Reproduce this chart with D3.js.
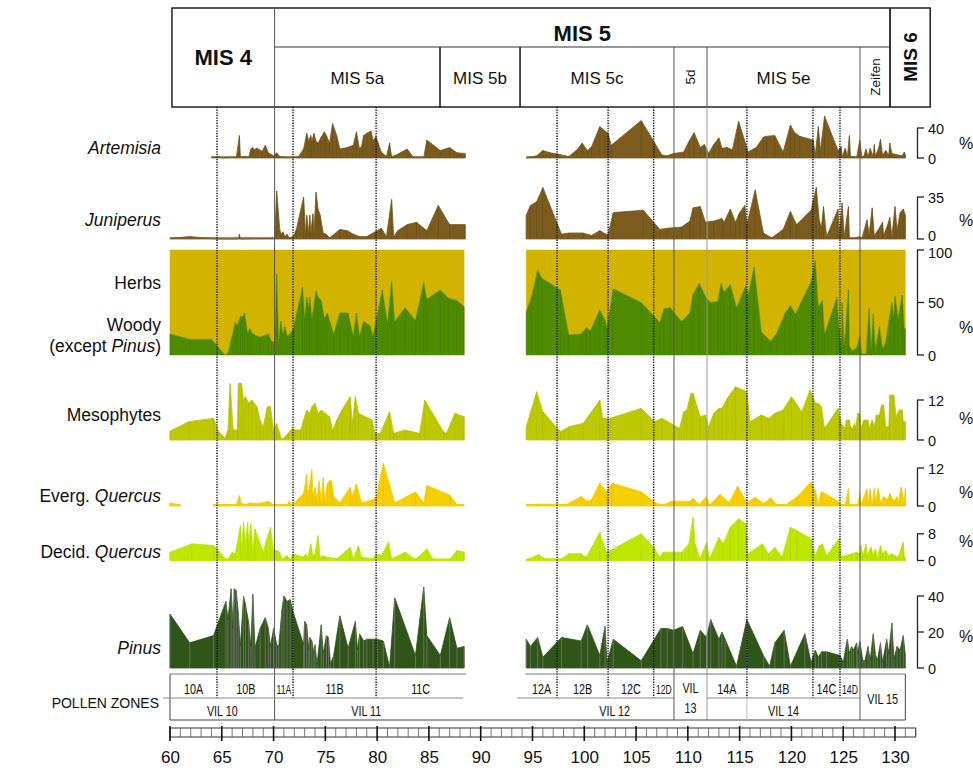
<!DOCTYPE html>
<html><head><meta charset="utf-8">
<script src="https://cdn.jsdelivr.net/npm/d3@7"></script>
<style>
body{margin:0;background:#fff}
svg{display:block}
text{font-family:'Liberation Sans',Arial,sans-serif;fill:#111}
</style>
</head><body>
<svg id="c" width="973" height="771"></svg>
<script>
// ---------------- DATA (age in ka, value in %) ----------------
const axisTicks = [60,65,70,75,80,85,90,95,100,105,110,115,120,125,130];

const artemisia = [[60.0,0],[64.0,0.5],[64.3,1],[65.5,0.3],[66.0,1],[66.4,0.5],[66.7,30],[66.8,1],[67.2,2],[67.6,1],[67.8,12],[68.0,14],[68.1,11],[68.4,13],[68.9,9],[69.2,17],[69.5,7],[70.0,3],[70.3,7],[70.6,2],[71.3,0.5],[71.9,0.5],[72.4,2],[72.9,12],[73.2,33],[73.4,23],[73.6,30],[73.7,22],[73.9,33],[74.1,22],[74.3,20],[74.6,28],[74.9,35],[75.1,30],[75.4,20],[75.7,46],[76.1,30],[76.4,12],[77.1,14],[77.7,17],[78.0,35],[78.3,12],[78.5,16],[78.7,30],[79.0,33],[79.4,36],[79.6,24],[79.9,28],[80.1,20],[80.4,8],[80.9,2],[81.2,20],[81.4,2],[81.7,3],[82.9,12],[83.5,1],[84.5,1],[84.8,24],[86.1,10],[87.0,14],[87.7,7],[88.5,6],
[94.4,0],[95.4,3],[96.0,10],[96.7,7],[97.5,5],[98.5,2],[99.3,11],[99.8,20],[100.3,10],[100.7,15],[101.5,42],[102.0,36],[102.3,33],[102.6,17],[105.5,50],[106.8,20],[107.5,4],[108.0,3],[108.6,6],[109.6,8],[110.1,22],[110.6,34],[111.2,14],[111.6,18],[112.0,6],[112.5,18],[113.0,27],[113.3,13],[113.8,14],[114.3,11],[114.9,49],[115.6,18],[115.8,8],[116.6,14],[117.3,28],[117.6,29],[118.4,30],[119.2,8],[119.9,44],[120.3,34],[120.8,29],[122.1,24],[122.3,4],[122.6,42],[122.8,10],[123.2,56],[124.5,10],[124.8,15],[124.9,2],[125.2,13],[125.4,2],[125.6,30],[125.7,2],[126.0,2],[126.3,1],[126.6,24],[126.8,1],[127.0,3],[127.2,12],[127.4,2],[127.6,13],[127.9,2],[128.0,18],[128.1,3],[128.4,12],[128.6,25],[128.8,4],[129.1,10],[129.4,4],[129.5,20],[129.7,6],[130.0,5],[130.3,4],[130.7,3],[130.9,8],[131.0,4]];

const juniperus = [[60.0,0.5],[61.9,2],[63.9,0.5],[64.5,0],[66.6,0],[66.7,4],[66.8,0],[69.7,0.5],[70.1,0.5],[70.3,40],[70.6,8],[70.7,4],[70.9,6],[71.1,2],[71.3,4],[71.5,1],[71.9,2],[72.2,8],[72.9,35],[73.1,3],[73.2,20],[73.4,5],[73.5,20],[73.6,5],[73.8,21],[73.9,5],[74.1,39],[74.3,25],[74.5,20],[74.8,5],[75.1,4],[75.4,1],[75.7,3],[76.4,8],[77.1,7],[77.7,4],[78.3,2],[79.0,2],[79.8,6],[80.4,9],[80.9,2],[81.4,33],[81.6,2],[82.0,7],[82.9,12],[83.8,14],[84.8,7],[85.9,28],[87.0,12],[88.5,12],
[94.4,20],[94.8,28],[95.4,31],[96.0,43],[97.8,4],[98.5,5],[99.9,5],[100.7,3],[101.5,7],[102.1,4],[102.3,4],[102.8,22],[105.7,24],[107.3,8],[108.0,9],[109.4,10],[110.2,15],[110.5,26],[111.2,27],[111.7,14],[112.5,15],[113.3,17],[113.5,14],[114.1,25],[114.6,14],[115.0,22],[115.5,28],[115.7,12],[116.5,41],[117.3,5],[118.1,1],[119.2,8],[119.9,23],[120.5,12],[121.9,24],[122.4,43],[122.7,15],[122.9,10],[123.1,27],[123.4,2],[124.5,25],[124.6,3],[124.9,30],[125.1,2],[125.5,27],[125.6,1],[126.0,0.5],[126.6,2],[126.8,0.5],[127.3,16],[127.5,4],[127.8,26],[128.0,3],[128.4,8],[128.8,14],[128.9,3],[129.3,12],[129.5,18],[129.7,2],[130.0,27],[130.2,8],[130.5,22],[130.8,25],[131.0,20]];

const woody = [[60.0,20],[61.9,15],[64.0,15],[65.3,0],[65.6,2],[66.0,18],[66.3,31],[66.5,28],[66.8,37],[67.0,36],[67.2,40],[67.5,21],[67.7,25],[68.0,20],[68.7,17],[69.5,20],[69.8,13],[70.1,12],[70.3,77],[70.5,12],[70.7,32],[70.9,20],[71.1,27],[71.3,18],[71.6,20],[71.9,25],[72.8,65],[73.0,35],[73.2,55],[73.4,45],[73.5,55],[73.7,35],[74.1,61],[74.3,55],[74.6,52],[74.9,35],[75.2,40],[75.8,20],[76.4,40],[77.2,40],[77.7,18],[78.0,40],[78.3,18],[78.7,32],[79.3,28],[79.6,18],[80.5,62],[81.0,30],[81.4,70],[81.7,32],[82.7,45],[83.7,33],[84.5,69],[84.8,53],[86.1,62],[86.9,54],[87.7,52],[88.4,46],
[94.4,41],[94.9,55],[95.5,81],[95.9,73],[97.7,62],[98.5,19],[99.7,20],[100.2,26],[100.6,23],[101.5,43],[102.0,33],[102.2,26],[102.8,63],[105.5,50],[107.3,31],[107.7,44],[108.3,45],[109.4,32],[110.2,40],[110.5,58],[111.1,68],[111.8,54],[112.2,50],[112.9,51],[113.2,68],[113.5,60],[114.1,67],[114.7,45],[115.6,66],[115.8,56],[116.4,84],[117.1,22],[118.0,13],[118.6,21],[119.4,40],[119.9,47],[120.4,39],[121.9,70],[122.3,90],[122.6,46],[123.0,52],[123.2,20],[124.4,55],[124.6,25],[124.8,8],[124.9,50],[125.1,8],[125.5,62],[125.6,8],[125.9,4],[126.3,7],[126.6,18],[126.8,1],[127.2,1],[127.5,44],[127.7,6],[127.9,39],[128.1,6],[128.5,27],[128.8,6],[129.1,12],[129.5,38],[129.7,50],[129.9,36],[130.0,56],[130.3,35],[130.7,57],[130.9,25],[131.0,25]];

const herbs = [[60.0,80],[61.9,85],[64.0,85],[65.3,100],[65.6,98],[66.0,82],[66.3,69],[66.5,72],[66.8,63],[67.0,64],[67.2,60],[67.5,79],[67.7,75],[68.0,80],[68.7,83],[69.5,80],[69.8,87],[70.1,88],[70.3,23],[70.5,88],[70.7,68],[70.9,80],[71.1,73],[71.3,82],[71.6,80],[71.9,75],[72.8,35],[73.0,65],[73.2,45],[73.4,55],[73.5,45],[73.7,65],[74.1,39],[74.3,45],[74.6,48],[74.9,65],[75.2,60],[75.8,80],[76.4,60],[77.2,60],[77.7,82],[78.0,60],[78.3,82],[78.7,68],[79.3,72],[79.6,82],[80.5,38],[81.0,70],[81.4,30],[81.7,68],[82.7,55],[83.7,67],[84.5,31],[84.8,47],[86.1,38],[86.9,46],[87.7,48],[88.4,54],
[94.4,59],[94.9,45],[95.5,19],[95.9,27],[97.7,38],[98.5,81],[99.7,80],[100.2,74],[100.6,77],[101.5,57],[102.0,67],[102.2,74],[102.8,37],[105.5,50],[107.3,69],[107.7,56],[108.3,55],[109.4,68],[110.2,60],[110.5,42],[111.1,32],[111.8,46],[112.2,50],[112.9,49],[113.2,32],[113.5,40],[114.1,33],[114.7,55],[115.6,34],[115.8,44],[116.4,16],[117.1,78],[118.0,87],[118.6,79],[119.4,60],[119.9,53],[120.4,61],[121.9,30],[122.3,10],[122.6,54],[123.0,48],[123.2,80],[124.4,45],[124.6,75],[124.8,92],[124.9,50],[125.1,92],[125.5,38],[125.6,92],[125.9,96],[126.3,93],[126.6,82],[126.8,99],[127.2,99],[127.5,56],[127.7,94],[127.9,61],[128.1,94],[128.5,73],[128.8,94],[129.1,88],[129.5,62],[129.7,50],[129.9,64],[130.0,44],[130.3,65],[130.7,43],[130.9,75],[131.0,75]];

const mesophytes = [[60.0,2.7],[61.8,5.5],[64.2,6.5],[64.7,2.5],[65.3,0.5],[65.6,3],[65.8,17],[66.1,3],[66.5,3],[66.6,17],[66.9,17],[67.1,12],[67.3,13],[67.6,11],[67.9,12],[68.4,10],[68.7,6],[69.0,4],[69.4,10],[69.7,10],[70.0,3],[70.3,5],[70.6,2],[70.8,0],[71.1,1],[71.4,2],[71.8,3.5],[72.1,3],[72.6,3],[72.9,6],[73.2,9],[73.5,8],[73.7,10],[74.0,11],[74.3,8],[74.6,9],[75.0,8],[75.4,7],[75.7,3],[76.1,6],[76.6,9],[77.4,13],[77.6,5],[77.9,13],[78.2,8],[79.5,6],[79.8,2],[80.3,2],[81.2,8.5],[81.6,2],[82.7,3],[84.1,2],[84.6,12],[86.4,2.5],[86.7,2],[87.5,8],[88.4,7],
[94.4,4],[95.4,14.5],[96.0,8.5],[97.7,2.5],[98.5,4],[99.9,5],[101.5,12],[101.8,6.5],[102.5,6.5],[105.5,9.5],[106.8,5.5],[107.5,6.5],[109.2,3.5],[109.6,8.5],[109.9,9],[110.3,14],[110.5,14],[111.2,7],[111.7,7.5],[112.0,4],[112.5,8],[113.0,9.5],[113.3,9.5],[113.8,12.5],[114.6,16],[115.7,14.5],[116.0,5.5],[117.1,7.5],[117.8,6.5],[118.4,8],[119.2,9],[120.0,13],[121.0,8.5],[121.8,15],[122.3,11],[122.6,11],[122.9,10],[123.2,3.5],[124.5,9.5],[124.8,5],[125.2,3.5],[125.3,6],[125.6,6],[125.7,4],[125.9,3.5],[126.1,5],[126.2,3.5],[126.4,8],[126.6,8],[126.7,3.5],[127.0,6],[127.4,6],[127.5,3.5],[127.8,6],[128.0,4],[128.2,7.5],[128.5,7.5],[128.7,10.5],[128.9,10.5],[129.1,4],[129.4,4],[129.5,13.5],[129.9,13.5],[130.1,7],[130.4,9],[130.7,9],[130.8,5.5],[131.0,5.5]];

const evergQuercus = [[60.0,1],[61.0,0.3],[64.2,0.6],[64.7,0.2],[66.4,0.3],[66.7,3.3],[66.9,0.8],[67.4,0.5],[67.7,1],[68.2,0.8],[68.7,0.9],[69.5,1.5],[70.0,0.3],[71.3,0.3],[71.5,1.5],[71.8,0.2],[72.9,4],[73.2,10],[73.3,3],[73.5,7],[73.7,11.5],[73.8,3],[74.0,6],[74.2,2],[74.4,8],[74.6,1.5],[74.8,9],[74.9,2],[75.2,7],[75.4,8],[75.6,8],[75.8,3],[76.4,1],[77.4,6],[77.6,3],[78.0,7],[78.5,1],[79.6,2],[79.9,3],[80.6,13.5],[81.7,1],[83.7,4.5],[84.5,1],[84.8,6.5],[87.0,3.5],[87.7,0.5],[88.4,0.3],
[94.4,0.3],[95.4,0.6],[98.3,0.5],[99.7,3],[100.3,1.5],[100.7,2],[101.5,7.3],[102.1,4.5],[102.7,7.2],[105.5,4.5],[106.9,1],[107.6,0.2],[108.4,1.5],[110.2,1.5],[110.5,2.5],[111.1,0.5],[111.8,3],[112.1,0.3],[113.1,3.7],[114.0,1],[114.8,6.3],[115.7,1],[116.5,2.8],[117.3,0.8],[118.0,2.6],[118.6,0.3],[119.4,0.3],[120.5,2.8],[121.9,7.6],[122.3,5],[122.6,0.5],[122.9,4.6],[124.5,1.5],[124.8,0.3],[125.2,0.3],[125.5,5.5],[125.6,0.3],[126.4,0.3],[126.6,4],[126.7,0.3],[127.3,5.5],[127.4,0.5],[127.6,5.5],[127.8,0.5],[128.0,5.5],[128.1,1.5],[128.4,5.5],[128.6,1],[128.9,3],[129.3,2],[129.5,4],[129.9,1.5],[130.2,3],[130.3,1],[130.6,6],[130.9,1],[131.0,5.5]];

const decidQuercus = [[60.0,2.5],[62.1,5],[64.2,4.5],[64.7,3],[65.5,0],[66.0,2.5],[66.3,2],[66.8,10.5],[66.9,3],[67.1,11.5],[67.3,5],[67.5,11.5],[67.6,5],[67.8,11],[68.0,3],[68.2,9.5],[69.0,2.5],[69.3,6],[69.7,10],[70.0,3],[70.3,3],[70.6,2.5],[70.8,0.3],[71.3,1.5],[71.6,0.3],[71.9,2],[72.9,1],[73.1,2],[73.3,1],[73.6,5],[73.8,1.5],[74.0,2],[74.3,7.5],[74.5,1],[74.8,1.5],[75.1,1],[76.1,0.5],[77.4,4],[77.7,0.5],[78.2,4.5],[78.5,1],[79.6,0.5],[79.9,2],[80.4,1.5],[81.1,5.5],[81.4,0.5],[82.7,2.5],[83.7,0.3],[84.8,3.5],[85.4,0.3],[87.0,0.3],[87.7,3],[88.4,2.5],
[94.4,0.2],[95.6,1.8],[96.2,0.5],[97.7,0.3],[98.5,2],[99.7,2],[100.2,1],[101.5,8.5],[102.1,2.5],[102.5,3],[105.5,8],[106.7,4],[107.3,1],[107.6,2.5],[109.4,2.5],[110.1,5],[110.5,13],[110.7,5],[111.2,0.5],[111.8,5.5],[112.1,0.5],[113.0,7],[113.4,5],[114.1,10],[114.9,12.5],[115.6,11],[115.8,2],[117.2,5],[117.8,2],[118.4,4],[119.1,1],[119.9,10],[120.5,9],[121.9,6.5],[122.3,1.5],[122.7,4.5],[123.0,5],[123.4,1.5],[124.6,6.5],[124.8,1.2],[125.3,1.5],[125.8,2],[126.3,2.5],[126.6,2],[126.7,4.5],[126.9,1.5],[127.2,5],[127.3,1.5],[127.7,4],[127.9,1.5],[128.1,3.5],[128.3,1],[128.6,4.5],[128.8,2],[129.1,3],[129.4,1.5],[129.7,2],[130.0,1.5],[130.3,1],[130.8,5.5],[130.9,1],[131.0,1]];

const pinus = [[60.0,30],[61.9,14],[64.2,18],[65.4,37],[65.6,27],[65.9,44],[66.1,22],[66.2,44],[66.4,43],[66.6,30],[66.8,12],[67.1,40],[67.3,35],[67.6,25],[67.8,12],[68.0,41],[68.2,11],[68.7,22],[69.2,28],[69.5,22],[69.7,12],[70.0,22],[70.3,13],[70.5,12],[70.8,32],[71.0,40],[71.3,37],[71.6,38],[71.9,31],[72.9,13],[73.0,26],[73.2,24],[73.4,10],[73.5,17],[73.7,15],[73.9,8],[74.0,13],[74.2,2],[74.6,24],[74.8,8],[75.1,18],[75.3,17],[75.5,2],[75.8,7],[76.4,29],[77.2,11],[77.9,26],[78.1,10],[78.3,19],[78.7,15],[79.0,16],[79.6,16],[80.0,16],[80.6,15],[81.2,0.5],[81.7,39],[83.7,7],[84.5,45],[84.8,18],[86.1,7],[87.0,28],[87.7,11],[88.4,12],
[94.4,16],[94.8,12],[95.5,17],[96.0,6],[97.8,17],[99.7,15],[100.3,24],[101.5,7],[102.0,23],[102.2,3],[102.8,16],[105.5,4],[107.4,22],[108.0,22],[108.6,21],[109.5,23],[110.5,8],[111.2,21],[111.8,17],[112.2,27],[113.0,16],[113.3,20],[113.6,16],[114.7,1],[115.7,27],[117.3,7],[117.9,1],[118.4,14],[119.3,21],[119.9,1],[121.3,19],[121.9,3],[122.3,10],[122.6,6],[122.9,9],[123.4,9],[124.7,7],[125.0,3],[125.4,16],[125.6,8],[125.8,12],[126.0,10],[126.3,14],[126.4,8],[126.6,15],[126.9,4],[127.1,4],[127.4,12],[127.6,4],[127.9,19],[128.1,8],[128.3,4],[128.6,14],[128.8,3],[129.2,16],[129.4,8],[129.7,25],[129.9,5],[130.2,12],[130.5,10],[130.8,18],[131.0,7]];

// boundaries (ka)
const solidBounds = [70.1, 108.66, 111.85, 126.62];
const dottedBounds = [64.54, 71.88, 79.9, 97.37, 102.3, 106.7, 115.7, 122.08, 124.69];
const misMain = [{name:'MIS 4',from:60.19,to:70.1},{name:'MIS 5',from:70.1,to:129.52},{name:'MIS 6',from:129.52,to:133.4}];
const misSub = [{name:'MIS 5a',from:70.1,to:86.07},{name:'MIS 5b',from:86.07,to:93.8},{name:'MIS 5c',from:93.8,to:108.66},{name:'5d',from:108.66,to:111.85},{name:'MIS 5e',from:111.85,to:126.62},{name:'Zeifen',from:126.62,to:129.52}];
const zonesTop = [{name:'10A',from:60,to:64.54},{name:'10B',from:64.54,to:70.1},{name:'11A',from:70.1,to:71.88},{name:'11B',from:71.88,to:79.9},{name:'11C',from:79.9,to:88.5},{name:'12A',from:94.4,to:97.37},{name:'12B',from:97.37,to:102.3},{name:'12C',from:102.3,to:106.7},{name:'12D',from:106.7,to:108.66},{name:'14A',from:111.85,to:115.7},{name:'14B',from:115.7,to:122.08},{name:'14C',from:122.08,to:124.69},{name:'14D',from:124.69,to:126.62}];
const zonesBottom = [{name:'VIL 10',from:60,to:70.1},{name:'VIL 11',from:70.1,to:87.8},{name:'VIL 12',from:97.2,to:108.66},{name:'VIL 14',from:111.85,to:126.62}];
const zonesFull = [{name:['VIL','13'],from:108.66,to:111.85},{name:['VIL 15'],from:126.62,to:131}];

// ---------------- DRAW ----------------
const svg = d3.select('#c');
const x = d3.scaleLinear().domain([60,132]).range([170, 915.7]);

function splitGaps(data){
  const segs=[]; let cur=[];
  data.forEach((d,i)=>{ if(i>0 && d[0]-data[i-1][0]>3){segs.push(cur);cur=[];} cur.push(d); });
  segs.push(cur); return segs;
}

const panels = [
 {data:artemisia, base:158, top:128, max:40, ticks:[0,40], fill:'#7b5c1e', bar:'#5e4515', pctY:149, baseCol:'#a08a5e'},
 {data:juniperus, base:239, top:197, max:35, ticks:[0,35], fill:'#7b5c1e', bar:'#5e4515', pctY:226, baseCol:'#a08a5e'},
 {data:mesophytes, base:440, top:400, max:12, ticks:[0,12], fill:'#bcc800', bar:'#a5b000', pctY:424, baseCol:'#bcc800'},
 {data:evergQuercus, base:506, top:468, max:12, ticks:[0,12], fill:'#f5cf00', bar:'#e0b800', pctY:498, baseCol:'#f5cf00'},
 {data:decidQuercus, base:560.5, top:533.8, max:8, ticks:[0,8], fill:'#bde600', bar:'#a8cf00', pctY:547, baseCol:'#bde600'},
 {data:pinus, base:668, top:596, max:40, ticks:[0,20,40], fill:'#2f5518', bar:'#767676', barOp:0.9, pctY:642, baseCol:'#2f5518'}
];
const hw = {base:355, top:250, max:100, ticks:[0,50,100], pctY:333};

const gData = svg.append('g');

// herbs / woody stacked
{
  const y = d3.scaleLinear().domain([0,100]).range([hw.base, hw.top]);
  const rows = woody.map((d,i)=>({age:d[0], woody:d[1], herbs:herbs[i][1]}));
  const stack = d3.stack().keys(['woody','herbs'])(rows);
  const cols = {woody:'#4f8a00', herbs:'#d2b300'};
  stack.slice().reverse().forEach(layer=>{
    const pts = layer.map(p=>({age:p.data.age, y0:p[0], y1:p[1]}));
    const segs=[]; let cur=[];
    pts.forEach((p,i)=>{ if(i>0 && p.age-pts[i-1].age>3){segs.push(cur);cur=[];} cur.push(p); });
    segs.push(cur);
    const area = d3.area().x(p=>x(p.age)).y0(p=>y(p.y0)).y1(p=>y(p.y1));
    segs.forEach(s=>gData.append('path').attr('d',area(s)).attr('fill',cols[layer.key]).attr('stroke',cols[layer.key]).attr('stroke-width',0.5));
  });
  gData.selectAll(null).data(woody).enter().append('line')
    .attr('x1',d=>x(d[0])).attr('x2',d=>x(d[0])).attr('y1',y(0)).attr('y2',d=>y(d[1]))
    .attr('stroke','#3f7800').attr('stroke-width',0.8).attr('opacity',0.5);
}

panels.forEach(p=>{
  const y = d3.scaleLinear().domain([0,p.max]).range([p.base,p.top]);
  p.y=y;
  const area = d3.area().x(d=>x(d[0])).y0(y(0)).y1(d=>y(d[1]));
  splitGaps(p.data).forEach(s=>{
    gData.append('rect').attr('x',x(s[0][0])).attr('y',y(0)-2).attr('width',x(s[s.length-1][0])-x(s[0][0])).attr('height',2)
      .attr('fill',p.baseCol);
    gData.append('path').attr('d',area(s)).attr('fill',p.fill).attr('stroke',p.fill).attr('stroke-width',0.8);
  });
  gData.selectAll(null).data(p.data).enter().append('line')
    .attr('x1',d=>x(d[0])).attr('x2',d=>x(d[0])).attr('y1',y(0)).attr('y2',d=>y(d[1]))
    .attr('stroke',p.bar).attr('stroke-width',0.9).attr('opacity',p.barOp||0.45);
});

// right axes
const allAxes = panels.map(p=>({base:p.base,top:p.top,max:p.max,ticks:p.ticks,pctY:p.pctY})).concat([hw]);
allAxes.forEach(a=>{
  const y = d3.scaleLinear().domain([0,a.max]).range([a.base,a.top]);
  const g = svg.append('g');
  g.append('line').attr('x1',917.5).attr('x2',917.5).attr('y1',y(0)).attr('y2',y(a.max)).attr('stroke','#222').attr('stroke-width',1.3);
  a.ticks.forEach(t=>{
    g.append('line').attr('x1',917).attr('x2',924).attr('y1',y(t)).attr('y2',y(t)).attr('stroke','#222').attr('stroke-width',1.3);
    let dy = 5.5;
    if(a.max===35 && t===0) dy = 2;
    if(a.max===100 && t===100) dy = 8;
    g.append('text').attr('x',928).attr('y',y(t)+dy).attr('font-size',14.5).text(t);
  });
  g.append('text').attr('x',959).attr('y',a.pctY).attr('font-size',16).text('%');
});

// left labels
const labels = [
 {y:154, parts:[['Artemisia',true]]},
 {y:226, parts:[['Juniperus',true]]},
 {y:289, parts:[['Herbs',false]]},
 {y:331, parts:[['Woody',false]]},
 {y:352, parts:[['(except ',false],['Pinus',true],[')',false]]},
 {y:421, parts:[['Mesophytes',false]]},
 {y:502, parts:[['Everg. ',false],['Quercus',true]]},
 {y:558, parts:[['Decid. ',false],['Quercus',true]]},
 {y:654, parts:[['Pinus',true]]}
];
labels.forEach(l=>{
  const t = svg.append('text').attr('x',161).attr('y',l.y).attr('text-anchor','end').attr('font-size',17.5);
  l.parts.forEach(pt=>t.append('tspan').attr('font-style',pt[1]?'italic':'normal').text(pt[0]));
});
svg.append('text').attr('x',159).attr('y',708).attr('text-anchor','end').attr('font-size',14).text('POLLEN ZONES');

// header
const H = svg.append('g');
const hTop=8, hMid=47, hBot=107;
H.append('rect').attr('x',x(60.19)).attr('y',hTop).attr('width',x(133.4)-x(60.19)).attr('height',hBot-hTop).attr('fill','none').attr('stroke','#222').attr('stroke-width',1.5);
H.append('line').attr('x1',x(70.1)).attr('x2',x(129.52)).attr('y1',hMid).attr('y2',hMid).attr('stroke','#333').attr('stroke-width',1);
H.append('line').attr('x1',x(129.52)).attr('x2',x(129.52)).attr('y1',hTop).attr('y2',hBot).attr('stroke','#222').attr('stroke-width',1.8);
misSub.forEach((m,i)=>{
  if(i>0){
    const thick = (m.name==='MIS 5b'||m.name==='MIS 5c');
    H.append('line').attr('x1',x(m.from)).attr('x2',x(m.from)).attr('y1',hMid).attr('y2',hBot).attr('stroke',thick?'#222':'#555').attr('stroke-width',thick?1.6:1);
  }
  const cx = (x(m.from)+x(m.to))/2;
  if(m.name==='5d'||m.name==='Zeifen'){
    H.append('text').attr('transform',`translate(${cx+5},77) rotate(-90)`).attr('text-anchor','middle').attr('font-size',13.5).text(m.name);
  } else {
    H.append('text').attr('x',cx).attr('y',84).attr('text-anchor','middle').attr('font-size',17).text(m.name);
  }
});
misMain.forEach(m=>{
  const cx=(x(m.from)+x(m.to))/2;
  if(m.name==='MIS 4') H.append('text').attr('x',cx).attr('y',65).attr('text-anchor','middle').attr('font-size',22).attr('font-weight','bold').text(m.name);
  else if(m.name==='MIS 5') H.append('text').attr('x',cx).attr('y',41).attr('text-anchor','middle').attr('font-size',22).attr('font-weight','bold').text(m.name);
  else H.append('text').attr('transform',`translate(${cx+7},57) rotate(-90)`).attr('text-anchor','middle').attr('font-size',19).attr('font-weight','bold').text(m.name);
});

// boundary lines
const zTop=674, zMid=698, zBot=720;
dottedBounds.forEach(b=>{
  svg.append('line').attr('x1',x(b)).attr('x2',x(b)).attr('y1',hBot).attr('y2',zMid)
    .attr('stroke','#111').attr('stroke-width',1.4).attr('stroke-dasharray','1.3,1.3');
});
solidBounds.forEach(b=>{
  svg.append('line').attr('x1',x(b)).attr('x2',x(b)).attr('y1',b===70.1?hTop:hBot).attr('y2',zBot)
    .attr('stroke', b===111.85?'#9a9a9a':'#555').attr('stroke-width',1);
});

// pollen zones box
const Z = svg.append('g');
const zl = (a,b,y1,y2,c)=>Z.append('line').attr('x1',a).attr('x2',b).attr('y1',y1).attr('y2',y2).attr('stroke',c||'#444').attr('stroke-width',1);
zl(x(60),x(60),zTop,zBot); zl(x(131),x(131),zTop,zBot);
zl(x(60),x(131),zBot,zBot);
zl(x(60),x(88.6),zTop,zTop,'#777'); zl(x(94.3),x(131),zTop,zTop,'#777');
zl(163,x(88.3),zMid,zMid,'#888'); zl(x(93.5),x(108.66),zMid,zMid,'#888'); zl(x(111.85),x(126.62),zMid,zMid,'#888');
zl(x(115.7),x(115.7),zMid,zBot,'#bbb');
function narrowText(cx, y, txt, size){
  Z.append('text').attr('transform',`translate(${cx},${y}) scale(0.72,1)`).attr('text-anchor','middle')
    .attr('font-size',size).text(txt);
}
zonesTop.forEach(z=>{
  const small = (z.name==='11A'||z.name==='12D'||z.name==='14D');
  narrowText((x(z.from)+x(z.to))/2, 694, z.name, small?12:15);
});
zonesBottom.forEach(z=>narrowText((x(z.from)+x(z.to))/2, 716, z.name, 15));
zonesFull.forEach(z=>{
  const cx=(x(z.from)+x(z.to))/2;
  if(z.name.length===2){ narrowText(cx, 693, z.name[0], 15); narrowText(cx, 713, z.name[1], 15); }
  else narrowText(cx, 704, z.name[0], 15);
});

// bottom ruler axis
const R = svg.append('g');
const rTop=728, rBot=737;
R.append('rect').attr('x',x(60)).attr('y',rTop).attr('width',x(132)-x(60)).attr('height',rBot-rTop).attr('fill','none').attr('stroke','#333').attr('stroke-width',1);
d3.range(60,133).forEach(v=>{
  const major = v%5===0;
  R.append('line').attr('x1',x(v)).attr('x2',x(v)).attr('y1',major?726:rTop).attr('y2',major?741:rBot)
   .attr('stroke',major?'#111':'#555').attr('stroke-width',major?1.6:0.8);
});
const xAxis = d3.axisBottom(x).tickValues(axisTicks).tickSize(0).tickFormat(d3.format('d'));
const ax = svg.append('g').attr('transform','translate(0,745)').call(xAxis);
ax.select('.domain').remove();
ax.selectAll('text').attr('font-size',17).attr('font-family','Liberation Sans, Arial, sans-serif').attr('fill','#111').attr('dy','0.9em');
</script>
</body></html>
